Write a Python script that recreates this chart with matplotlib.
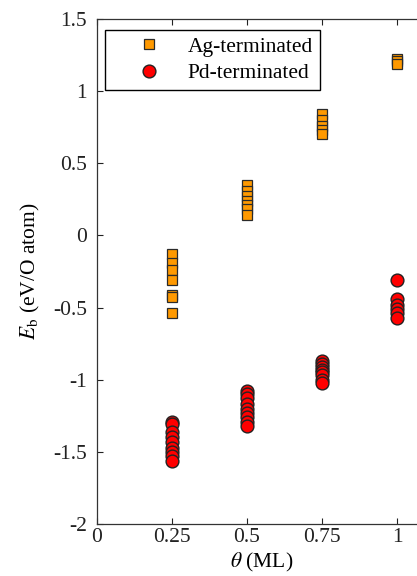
import numpy as np
import matplotlib
matplotlib.use("Agg")
import matplotlib.pyplot as plt

plt.rcParams['font.family'] = ['Liberation Serif', 'DejaVu Serif']
plt.rcParams['mathtext.fontset'] = 'stix'

# coverage (ML) and binding energies (eV/O atom)
ag_025 = [-0.13, -0.19, -0.24, -0.31, -0.41, -0.43, -0.54]
ag_050 = [0.35, 0.31, 0.27, 0.24, 0.21, 0.18, 0.14]
ag_075 = [0.84, 0.80, 0.76, 0.73, 0.70]
ag_100 = [1.22, 1.21, 1.19]

pd_025 = [-1.29, -1.31, -1.36, -1.40, -1.43, -1.47, -1.50, -1.53, -1.56]
pd_050 = [-1.08, -1.10, -1.13, -1.17, -1.20, -1.23, -1.26, -1.29, -1.32]
pd_075 = [-0.87, -0.89, -0.91, -0.93, -0.95, -0.97, -1.00, -1.02]
pd_100 = [-0.31, -0.44, -0.48, -0.51, -0.54, -0.57]

coverages = [0.25, 0.5, 0.75, 1.0]
ag_sets = [ag_025, ag_050, ag_075, ag_100]
pd_sets = [pd_025, pd_050, pd_075, pd_100]

xticks = [0, 0.25, 0.5, 0.75, 1]
xticklabels = ['0', '0.25', '0.5', '0.75', '1']
yticks = [-2, -1.5, -1, -0.5, 0, 0.5, 1, 1.5]
yticklabels = ['-2', '-1.5', '-1', '-0.5', '0', '0.5', '1', '1.5']

ag_x = np.concatenate([[c] * len(s) for c, s in zip(coverages, ag_sets)])
ag_y = np.concatenate(ag_sets)
pd_x = np.concatenate([[c] * len(s) for c, s in zip(coverages, pd_sets)])
pd_y = np.concatenate(pd_sets)

fs = 15.5

fig = plt.figure(figsize=(4.17, 5.76), dpi=100)
ax = fig.add_axes([0.2326, 0.0903, 0.7914, 0.8767])

ax.plot(ag_x, ag_y, 's', ms=7.2, mfc='#FF9900', mec='#2a2a2a', mew=0.9,
        label='Ag-terminated', clip_on=False)
ax.plot(pd_x, pd_y, 'o', ms=9.2, mfc='#FF0000', mec='#222222', mew=1.0,
        label='Pd-terminated', clip_on=False)

ax.set_xlim(0, 1.1)
ax.set_ylim(-2, 1.5)
ax.set_xticks(xticks)
ax.set_xticklabels(xticklabels)
ax.set_yticks(yticks)
ax.set_yticklabels(yticklabels)
ax.tick_params(direction='in', top=True, right=True, length=4, width=0.8,
               labelsize=fs, colors='#222222')
ax.tick_params(axis='y', pad=7)
ax.tick_params(axis='x', pad=3)
for s in ax.spines.values():
    s.set_linewidth(0.9)
    s.set_color('#333333')

ax.set_xlabel(r'$\theta$ (ML)', fontsize=fs, labelpad=3)
ax.set_ylabel(r'$E_\mathrm{b}$ (eV/O atom)', fontsize=fs, labelpad=8)

leg = ax.legend(loc='upper left', bbox_to_anchor=(0.024, 0.978), borderaxespad=0,
                fontsize=fs, fancybox=False, edgecolor='black', framealpha=1,
                handletextpad=0.05, borderpad=0.3, labelspacing=0.3,
                handlelength=3.5)
leg.get_frame().set_linewidth(1.0)

fig.savefig('out.png', dpi=100)
